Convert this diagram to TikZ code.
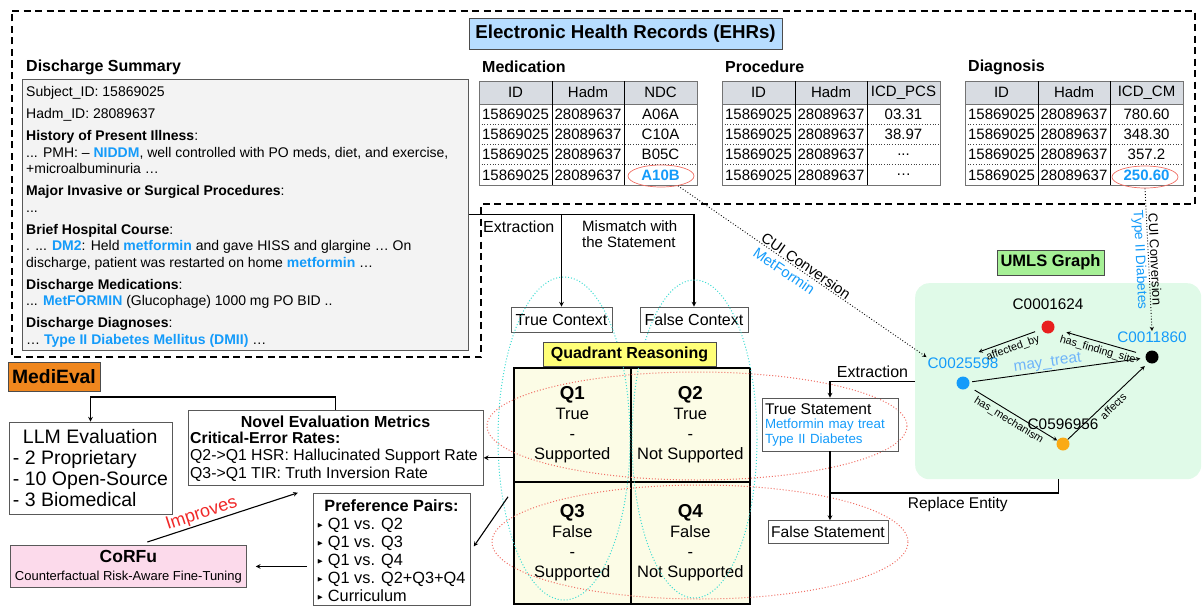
\documentclass[tikz,border=0pt]{standalone}
\usepackage{amssymb}
\usepackage{fontspec}
\setmainfont{Liberation Sans}
\usetikzlibrary{shapes.geometric, arrows}
\usetikzlibrary{calc, positioning}
\definecolor{ehrblue}{RGB}{20,155,250}
\definecolor{treatblue}{RGB}{110,180,250}
\definecolor{titleblue}{RGB}{183,221,255}
\definecolor{umlsgreen}{RGB}{166,240,150}
\definecolor{umlsbg}{RGB}{224,250,232}
\definecolor{quadyellow}{RGB}{255,255,120}
\definecolor{cellyellow}{RGB}{252,252,230}
\definecolor{evalorange}{RGB}{240,135,30}
\definecolor{corfupink}{RGB}{252,218,235}
\definecolor{sumgray}{RGB}{243,243,243}
\definecolor{headgray}{RGB}{216,220,226}
\definecolor{dotred}{RGB}{232,30,30}
\definecolor{dotorange}{RGB}{250,170,20}
\definecolor{ellred}{RGB}{240,110,100}
\definecolor{ellcyan}{RGB}{60,220,210}
\definecolor{improvered}{RGB}{240,40,40}
\newcommand{\fsz}[2]{\fontsize{#1}{#2}\selectfont}
\newcommand{\ehrhl}[1]{\textcolor{ehrblue}{\bfseries #1}}
\newcommand{\pbul}{\raisebox{2.5pt}{\fsz{7}{7}$\blacktriangleright$}\ }
\tikzstyle{arrow} = [->,>=stealth, line width=1.1pt]
\tikzstyle{cuiarrow} = [->,>=stealth, dotted, line width=0.9pt]
\tikzstyle{relarrow} = [->,>=stealth, line width=0.9pt]
\tikzstyle{textbox} = [rectangle, draw=black!65, line width=0.8pt, inner sep=0pt]
\tikzstyle{labelbox} = [rectangle, draw=black!70, line width=0.8pt, inner sep=0pt, font=\bfseries\fsz{16}{18}]
\tikzstyle{tabtitle} = [font=\bfseries\fsz{16}{18}, inner sep=0pt, anchor=west]
\tikzstyle{tabcell} = [font=\fsz{15}{17}, inner sep=0pt]
\tikzstyle{hlell} = [ellipse, draw=ellred, line width=0.7pt, minimum width=66pt, minimum height=22pt, inner sep=0pt]
\tikzstyle{quadcell} = [rectangle, draw=black, line width=1.6pt, fill=cellyellow, align=center, font=\fsz{16.5}{20}, inner sep=0pt, anchor=north west]
\tikzstyle{umlsdot} = [circle, minimum size=13pt, inner sep=0pt]
\tikzstyle{clabel} = [font=\fsz{15.3}{17}, inner sep=1pt]
\tikzstyle{reltext} = [font=\fsz{10.8}{12}, inner sep=3pt, sloped]
\tikzstyle{cyanell} = [dotted, draw=ellcyan, line width=1pt]
\tikzstyle{redell} = [dotted, draw=ellred, line width=1pt]
% one EHR table: name, left x, title, third column, four values
\newcommand{\ehrtable}[8]{%
  \node[tabtitle] (#1-title) at (#2+3,67) {#3};
  \fill[headgray] (#2,81) rectangle (#2+218,104);
  \foreach \r in {1,2,3}
    \draw[black!75, dotted, line width=0.7pt] (#2,104+\r*20.25) -- (#2+218,104+\r*20.25);
  \draw[black!55, line width=0.8pt] (#2,81) rectangle (#2+218,185) (#2,104) -- (#2+218,104);
  \draw[black, line width=0.8pt] (#2+73,81) -- (#2+73,185) (#2+145,81) -- (#2+145,185);
  \node[tabcell] (#1-h1) at (#2+36.5,92.5) {ID};
  \node[tabcell] (#1-h2) at (#2+109,92.5) {Hadm};
  \node[tabcell] (#1-h3) at (#2+181.5,92.5) {#4};
  \foreach \r in {1,2,3,4} {
    \node[tabcell] (#1-a\r) at (#2+36.5,93.875+\r*20.25) {15869025};
    \node[tabcell] (#1-b\r) at (#2+109,93.875+\r*20.25) {28089637};
  }
  \node[tabcell] (#1-c1) at (#2+181.5,114.125) {#5};
  \node[tabcell] (#1-c2) at (#2+181.5,134.375) {#6};
  \node[tabcell] (#1-c3) at (#2+181.5,154.625) {#7};
  \node[tabcell] (#1-c4) at (#2+181.5,174.875) {#8};
}
\begin{document}
\begin{tikzpicture}[x=1pt, y=-1pt]
	\useasboundingbox (0,0) rectangle (1203,608);
	% EHR part
	\draw[dashed, dash pattern=on 7pt off 4.5pt, line width=2.2pt] (12,11) -- (1195,11) -- (1195,204) -- (481,204) -- (481,357) -- (12,357) -- cycle;
	\node[labelbox, fill=titleblue, minimum width=313pt, minimum height=31pt, font=\bfseries\fsz{18.7}{20}] (ehr) at (625.5,33.5) {Electronic Health Records (EHRs)};
	\node[tabtitle] (dsumtitle) at (26,67) {Discharge Summary};
	\node[textbox, fill=sumgray, minimum width=446pt, minimum height=271pt, anchor=north west] (dsum) at (22,79) {};
	\node[anchor=north west, align=left, inner sep=0pt, font=\fsz{14}{16.5}] (dtext) at (26,86.5) {Subject\_ID: 15869025\\[5.5pt]
		Hadm\_ID: 28089637\\[5.5pt]
		\textbf{History of Present Illness}:\\
		... PMH: – \ehrhl{NIDDM}, well controlled with PO meds, diet, and exercise,\\
		+microalbuminuria …\\[5.5pt]
		\textbf{Major Invasive or Surgical Procedures}:\\
		...\\[5.5pt]
		\textbf{Brief Hospital Course}:\\
		. ... \ehrhl{DM2}: Held \ehrhl{metformin} and gave HISS and glargine … On\\
		discharge, patient was restarted on home \ehrhl{metformin} …\\[5.5pt]
		\textbf{Discharge Medications}:\\
		... \ehrhl{MetFORMIN} (Glucophage) 1000 mg PO BID ..\\[5.5pt]
		\textbf{Discharge Diagnoses}:\\
		… \ehrhl{Type II Diabetes Mellitus (DMII)} …};
	\ehrtable{med}{479}{Medication}{NDC}{A06A}{C10A}{B05C}{\ehrhl{A10B}}
	\ehrtable{proc}{722}{Procedure}{ICD\_PCS}{03.31}{38.97}{...}{…}
	\ehrtable{diag}{965}{Diagnosis}{ICD\_CM}{780.60}{348.30}{357.2}{\ehrhl{250.60}}
	\node[hlell] (a10b) at (661,176) {};
	\node[hlell] (d250) at (1145,177) {};
	% contexts
	\node[textbox, minimum width=101pt, minimum height=25pt, font=\fsz{16}{18}] (tctx) at (561.5,319.5) {True Context};
	\node[textbox, minimum width=108pt, minimum height=25pt, font=\fsz{16}{18}] (fctx) at (694,319.5) {False Context};
	\draw [arrow](dsum.east) -| (fctx.north);
	\draw [arrow](dsum.east -| tctx.north) -- (tctx.north);
	\node[font=\fsz{16}{18}, anchor=west, inner sep=0pt] (extr1) at (483,227) {Extraction};
	\node[font=\fsz{15}{16}, anchor=west, align=left, inner sep=0pt] (mism) at (582,234) {Mismatch with\\the Statement};
	% quadrant reasoning
	\node[quadcell, minimum width=117pt, minimum height=114pt] (q1) at (513,367) {{\bfseries\fsz{18.7}{20}Q1}\\True\\-\\Supported};
	\node[quadcell, minimum width=119pt, minimum height=114pt] (q2) at (630,367) {{\bfseries\fsz{18.7}{20}Q2}\\True\\-\\Not Supported};
	\node[quadcell, minimum width=117pt, minimum height=122pt] (q3) at (513,481) {{\bfseries\fsz{18.7}{20}Q3}\\False\\-\\Supported};
	\node[quadcell, minimum width=119pt, minimum height=122pt] (q4) at (630,481) {{\bfseries\fsz{18.7}{20}Q4}\\False\\-\\Not Supported};
	\draw[cyanell] (564,438.5) ellipse (66 and 161.5);
	\draw[cyanell] (694.5,439) ellipse (62.5 and 159);
	\draw[redell] (697,426) ellipse (210 and 54);
	\draw[redell] (700,542) ellipse (208 and 57);
	\node[labelbox, fill=quadyellow, minimum width=173pt, minimum height=24pt] (qlabel) at (629.5,354) {Quadrant Reasoning};
	% statements
	\node[textbox, text width=130pt, align=left, inner xsep=3pt, minimum height=53pt, font=\fsz{13.3}{14.5}] (ts) at (830,424.5) {{\fsz{15.5}{14.5}True Statement}\\\textcolor{ehrblue}{Metformin may treat}\\\textcolor{ehrblue}{Type II Diabetes}};
	\node[textbox, minimum width=120pt, minimum height=23pt, font=\fsz{15.6}{17}] (fs) at (828,532) {False Statement};
	% UMLS graph
	\node[rectangle, rounded corners=14pt, fill=umlsbg, minimum width=286pt, minimum height=196pt, anchor=north west] (umls) at (915,283) {};
	\node[labelbox, fill=umlsgreen, minimum width=107pt, minimum height=25pt, font=\bfseries\fsz{16.5}{18}] (umlslabel) at (1050.5,262.5) {UMLS Graph};
	\node[umlsdot, fill=dotred] (cR) at (1048,327) {};
	\node[umlsdot, fill=black] (cK) at (1152,357) {};
	\node[umlsdot, fill=ehrblue] (cA) at (963,383) {};
	\node[umlsdot, fill=dotorange] (cO) at (1063,444) {};
	\node[clabel, above=9pt of cR] (lR) {C0001624};
	\node[clabel, text=ehrblue, above=6pt of cK] (lB) {C0011860};
	\node[clabel, text=ehrblue, above=6pt of cA] (lA) {C0025598};
	\node[clabel, above=6pt of cO] (lO) {C0596956};
	\draw [relarrow, shorten <=10pt, shorten >=12.5pt](cK) -- node[reltext, below] (eFS) {has\_finding\_site} (cR);
	\draw [relarrow, shorten <=7pt](cR) -- node[reltext, below] (eAB) {affected\_by} ([xshift=-21pt,yshift=5pt]lA.north east);
	\draw [relarrow, shorten <=2.5pt, shorten >=5pt](cA) -- node[pos=0.45, above, sloped, text=treatblue, font=\fsz{15.3}{16}, inner sep=1pt] (eMT) {may\_treat} (cK);
	\draw [relarrow, shorten <=7pt](cA) -- node[reltext, below] (eHM) {has\_mechanism} ([xshift=-25pt,yshift=2pt]cO);
	\draw [relarrow, shorten >=5pt]([xshift=35pt,yshift=3pt]cO) -- node[reltext, below] (eAF) {affects} (cK);
	% CUI conversion
	\draw [cuiarrow](a10b.-30) -- node[pos=0.5, sloped, above, font=\fsz{14.8}{16}, inner sep=1pt] (cui1) {CUI Conversion} node[pos=0.45, sloped, below, text=ehrblue, font=\fsz{14.8}{16}, inner sep=4pt] (cui1b) {MetFormin} (lA.north west);
	\draw [cuiarrow](d250.south) -- node[sloped, above, font=\fsz{13}{14}, inner sep=1.5pt] (cui2) {CUI Conversion} node[sloped, below, text=ehrblue, font=\fsz{13.7}{15}, inner sep=2pt] (cui2b) {Type II Diabetes} (lB.north);
	\draw [arrow](umls.west) -| node[pos=0.25, above, font=\fsz{16}{18}] (extr2) {Extraction} (ts.north);
	\draw [arrow](ts.south) -- (ts.south |- fs.north);
	\coordinate (rj) at (830,493);
	\draw [line width=1.1pt](umls.south) |- node[pos=0.72, below, font=\fsz{15.5}{17}] (repl) {Replace Entity} (rj);
	% MediEval part
	\node[labelbox, fill=evalorange, minimum width=92pt, minimum height=29pt, font=\bfseries\fsz{19.3}{21}] (medieval) at (54,376.5) {MediEval};
	\node[textbox, minimum width=163pt, minimum height=92pt, align=left, font=\fsz{19.5}{21}] (llm) at (90.5,468) {\hspace*{10pt}LLM Evaluation\\- 2 Proprietary\\- 10 Open-Source\\- 3 Biomedical};
	\node[textbox, minimum width=295pt, minimum height=75pt, anchor=north west] (novel) at (188,410) {};
	\node[font=\bfseries\fsz{16}{17}, inner sep=0pt] (noveltitle) at (335.5,422) {Novel Evaluation Metrics};
	\node[anchor=north west, align=left, inner sep=0pt, font=\fsz{15.8}{17.3}] (noveltext) at (190,432) {\textbf{Critical-Error Rates:}\\Q2->Q1 HSR: Hallucinated Support Rate\\Q3->Q1 TIR: Truth Inversion Rate};
	\node[textbox, minimum width=157pt, minimum height=112pt, anchor=north west] (pref) at (313,493) {};
	\node[font=\bfseries\fsz{16.3}{18}, inner sep=0pt] (preftitle) at (391.5,506) {Preference Pairs:};
	\node[anchor=north west, align=left, inner sep=0pt, font=\fsz{16.3}{18}] (preftext) at (317,518) {\pbul Q1 vs. Q2\\\pbul Q1 vs. Q3\\\pbul Q1 vs. Q4\\\pbul Q1 vs. Q2+Q3+Q4\\\pbul Curriculum};
	\node[textbox, fill=corfupink, minimum width=236pt, minimum height=42pt, align=center, font=\fsz{13}{18}, anchor=north west] (corfu) at (10,545) {{\bfseries\fsz{17.5}{18}CoRFu}\\Counterfactual Risk-Aware Fine-Tuning};
	\draw [arrow](novel.north) -- ++(0,-13) -| (llm.north);
	\draw [arrow]([yshift=-33pt]q1.west) -- ([yshift=-33pt]q1.west -| novel.east);
	\draw [arrow]([xshift=-5pt,yshift=46pt]q3.west) -- ([xshift=3pt,yshift=3pt]pref.east);
	\draw [arrow, shorten <=6pt, shorten >=9pt](pref.west |- corfu.east) -- (corfu.east);
	\draw [arrow]([xshift=19pt,yshift=3pt]corfu.north) -- node[pos=0.38, sloped, above, text=improvered, font=\fsz{18}{20}, inner sep=1pt] (impr) {Improves} ([xshift=-38pt,yshift=-7pt]novel.south);
\end{tikzpicture}
\end{document}
